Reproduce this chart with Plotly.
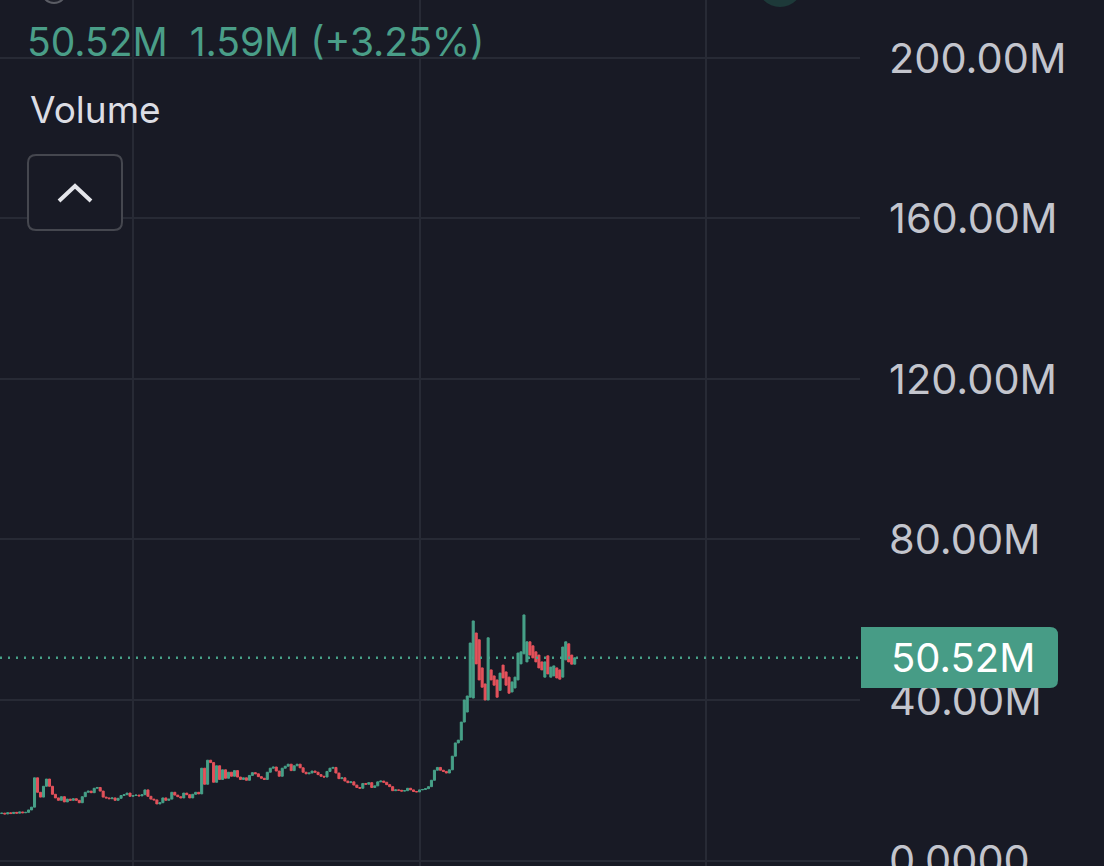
import pandas as pd
import plotly.graph_objects as go

# ---------------- data (market-cap candles, millions, 15-min bars) ----------------
start_time = "2024-11-20 13:00"
n_bars = 193

closes = [11.8, 11.6, 11.9, 11.7, 12.0, 11.8, 12.1, 11.9, 12.0, 12.6,
          13.3, 20.6, 17.0, 15.8, 18.5, 20.3, 18.5, 16.5, 15.6, 15.0,
          15.9, 14.6, 15.3, 15.0, 15.4, 15.0, 14.4, 15.9, 17.0, 17.3,
          16.9, 18.0, 18.2, 17.3, 15.8, 15.6, 15.4, 15.6, 15.0, 15.5,
          16.2, 16.4, 16.8, 16.0, 16.2, 16.3, 16.1, 16.4, 17.6, 16.0,
          15.3, 15.1, 14.1, 14.4, 15.6, 15.0, 15.3, 17.0, 16.3, 15.9,
          15.6, 16.8, 16.4, 15.6, 16.5, 17.0, 16.6, 23.0, 19.0, 25.0,
          24.4, 19.5, 23.6, 20.2, 22.6, 20.5, 22.0, 21.0, 22.4, 20.8,
          20.2, 20.6, 20.0, 21.2, 21.9, 21.6, 20.9, 20.5, 20.2, 22.0,
          23.0, 23.3, 22.3, 21.0, 23.0, 23.5, 24.0, 22.4, 23.6, 24.0,
          23.1, 22.0, 21.6, 21.8, 22.3, 22.0, 21.4, 21.0, 20.8, 22.2,
          23.0, 23.2, 21.8, 20.4, 20.6, 19.8, 19.4, 19.6, 18.8, 18.2,
          18.0, 19.2, 19.0, 19.4, 18.2, 18.6, 19.6, 19.8, 19.5, 18.9,
          18.4, 17.4, 17.6, 17.5, 17.3, 17.4, 18.0, 17.6, 17.2, 17.1,
          17.6, 17.7, 17.9, 18.4, 20.0, 22.5, 23.2, 22.5, 22.2, 21.8,
          22.6, 26.0, 29.3, 30.0, 34.5, 40.0, 41.0, 54.2, 59.7, 49.0,
          45.0, 43.2, 40.0, 55.5, 45.0, 43.7, 40.7, 46.7, 45.5, 43.7,
          41.7, 44.5, 45.7, 51.7, 52.0, 61.2, 54.5, 51.2, 50.5, 49.5,
          48.0, 47.5, 49.5, 46.5, 48.2, 48.5, 45.5, 45.2, 53.2, 54.5,
          49.5, 48.93, 50.52]

opens = [11.7, 11.8, 11.6, 11.9, 11.7, 12.0, 11.8, 12.1, 11.9, 12.0,
         12.6, 13.3, 20.6, 17.0, 15.8, 18.5, 20.3, 18.5, 16.5, 15.6,
         15.0, 15.9, 14.6, 15.3, 15.0, 15.4, 15.0, 14.4, 15.9, 17.0,
         17.3, 16.9, 18.0, 18.2, 17.3, 15.8, 15.6, 15.4, 15.6, 15.0,
         15.5, 16.2, 16.4, 16.8, 16.0, 16.2, 16.3, 16.1, 16.4, 17.6,
         16.0, 15.3, 15.1, 14.1, 14.4, 15.6, 15.0, 15.3, 17.0, 16.3,
         15.9, 15.6, 16.8, 16.4, 15.6, 16.5, 17.0, 16.6, 23.0, 19.0,
         25.0, 24.4, 19.5, 23.6, 20.2, 22.6, 20.5, 22.0, 21.0, 22.4,
         20.8, 20.2, 20.6, 20.0, 21.2, 21.9, 21.6, 20.9, 20.5, 20.2,
         22.0, 23.0, 23.3, 22.3, 21.0, 23.0, 23.5, 24.0, 22.4, 23.6,
         24.0, 23.1, 22.0, 21.6, 21.8, 22.3, 22.0, 21.4, 21.0, 20.8,
         22.2, 23.0, 23.2, 21.8, 20.4, 20.6, 19.8, 19.4, 19.6, 18.8,
         18.2, 18.0, 19.2, 19.0, 19.4, 18.2, 18.6, 19.6, 19.8, 19.5,
         18.9, 18.4, 17.4, 17.6, 17.5, 17.3, 17.4, 18.0, 17.6, 17.2,
         17.1, 17.6, 17.7, 17.9, 18.4, 20.0, 22.5, 23.2, 22.5, 22.2,
         21.8, 22.6, 26.0, 29.3, 30.0, 34.5, 37.0, 40.7, 40.5, 56.7,
         55.0, 48.0, 44.0, 40.0, 47.5, 46.0, 45.0, 42.4, 48.7, 47.0,
         45.7, 42.0, 43.0, 45.0, 49.0, 51.5, 49.5, 54.5, 53.5, 52.0,
         51.2, 49.5, 45.7, 51.0, 45.7, 46.0, 48.0, 47.5, 45.7, 50.0,
         54.0, 51.2, 48.93]

highs = [max(o, c) for o, c in zip(opens, closes)]
lows = [min(o, c) for o, c in zip(opens, closes)]

y_tick_vals = [0, 40, 80, 120, 160, 200]
y_tick_text = ["0.0000", "40.00M", "80.00M", "120.00M", "160.00M", "200.00M"]

last_value_text = "50.52M"
header_text = "50.52M\u00a0\u00a01.59M (+3.25%)"
panel_title = "Volume"

# ---------------- style ----------------
BG = "#181a25"
GRID = "#272a35"
UP = "#47a088"
DOWN = "#e4525b"
TEAL_TXT = "#4a9e88"
LABEL = "#c3c5cd"
FONT = "Inter"

M = 1e6
times = pd.date_range(start_time, periods=n_bars, freq="15min")
step = pd.Timedelta("15min")
x_lo = times[0] - step * 0.57
x_hi = times[0] + step * 287.6

fig = go.Figure(go.Candlestick(
    x=times,
    open=[v * M for v in opens], high=[v * M for v in highs],
    low=[v * M for v in lows], close=[v * M for v in closes],
    increasing=dict(line=dict(color=UP, width=1), fillcolor=UP),
    decreasing=dict(line=dict(color=DOWN, width=1), fillcolor=DOWN),
    whiskerwidth=0, hoverinfo="skip", showlegend=False,
))

W, H = 1104, 866
PW = 860  # plot width in px

def px(xp):
    return xp / PW

def py(yp):
    return 1 - yp / H

fig.update_layout(
    width=W, height=H,
    margin=dict(l=0, r=W - PW, t=0, b=0, autoexpand=False),
    paper_bgcolor=BG, plot_bgcolor=BG,
    boxgap=0.02,
    font=dict(family=FONT, color=LABEL),
    xaxis=dict(
        range=[x_lo.isoformat(), x_hi.isoformat()],
        type="date", rangeslider=dict(visible=False),
        showticklabels=False, ticks="", automargin=False,
        tick0="2024-11-20 00:00", dtick=86400000,
        showgrid=True, gridcolor=GRID, gridwidth=2,
        zeroline=False, showline=False, fixedrange=True,
    ),
    yaxis=dict(
        side="right", range=[-1.37 * M, 214.45 * M],
        tickvals=[v * M for v in y_tick_vals], ticktext=y_tick_text,
        ticks="", ticklabelstandoff=28, ticklabeloverflow="allow",
        automargin=False,
        tickfont=dict(size=41.5, color=LABEL, family=FONT),
        showgrid=True, gridcolor=GRID, gridwidth=2,
        zeroline=False, showline=False, fixedrange=True,
    ),
)

shapes = []
# last value dotted line
shapes.append(dict(type="line", xref="paper", yref="y", x0=0, x1=1,
                   y0=closes[-1] * M, y1=closes[-1] * M,
                   line=dict(color=UP, width=2.5, dash="2px,6px"), layer="above"))
# last value tag with rounded right corners
x0, x1 = px(861), px(1058)
ya, yb = (860.5 - 688) / 4.0125 * M, (860.5 - 627) / 4.0125 * M
rx, ry = px(8), 2.0 * M
path = (f"M {x0},{ya} L {x1 - rx},{ya} Q {x1},{ya} {x1},{ya + ry} "
        f"L {x1},{yb - ry} Q {x1},{yb} {x1 - rx},{yb} L {x0},{yb} Z")
shapes.append(dict(type="path", xref="paper", yref="y", path=path,
                   fillcolor="#479c86", line=dict(width=0), layer="above"))
# collapse button box
bx0, bx1, by0, by1 = px(28), px(122), py(230), py(155)
rbx, rby = px(8), 8 / H
bpath = (f"M {bx0 + rbx},{by0} L {bx1 - rbx},{by0} Q {bx1},{by0} {bx1},{by0 + rby} "
         f"L {bx1},{by1 - rby} Q {bx1},{by1} {bx1 - rbx},{by1} L {bx0 + rbx},{by1} "
         f"Q {bx0},{by1} {bx0},{by1 - rby} L {bx0},{by0 + rby} Q {bx0},{by0} {bx0 + rbx},{by0} Z")
shapes.append(dict(type="path", xref="paper", yref="paper", path=bpath,
                   fillcolor=BG, line=dict(color="#45474f", width=2), layer="above"))
# chevron
shapes.append(dict(type="path", xref="paper", yref="paper",
                   path=f"M {px(59)},{py(201)} L {px(75)},{py(186)} L {px(91)},{py(201)}",
                   line=dict(color="#e4e5ea", width=4), layer="above"))
# partially visible round buttons at the top
shapes.append(dict(type="circle", xref="paper", yref="paper",
                   x0=px(757), x1=px(803), y0=py(7), y1=py(-39),
                   fillcolor="#1d3939", line=dict(width=0), layer="above"))
shapes.append(dict(type="circle", xref="paper", yref="paper",
                   x0=px(42), x1=px(66), y0=py(3), y1=py(-21),
                   fillcolor="#1f212b", line=dict(color="#5a5c64", width=2), layer="above"))
fig.update_layout(shapes=shapes)

annotations = [
    dict(xref="paper", yref="paper", x=px(25), y=py(42), xanchor="left", yanchor="middle",
         text=header_text, showarrow=False, font=dict(size=39, color=TEAL_TXT, family=FONT)),
    dict(xref="paper", yref="paper", x=px(28), y=py(110), xanchor="left", yanchor="middle",
         text=panel_title, showarrow=False, font=dict(size=37, color="#dcdde4", family=FONT)),
    dict(xref="paper", yref="y", x=px(889), y=closes[-1] * M, xanchor="left", yanchor="middle",
         text=last_value_text, showarrow=False, font=dict(size=40, color="#ffffff", family=FONT)),
]
fig.update_layout(annotations=annotations)

fig.write_html("out.html", config=dict(displayModeBar=False))
